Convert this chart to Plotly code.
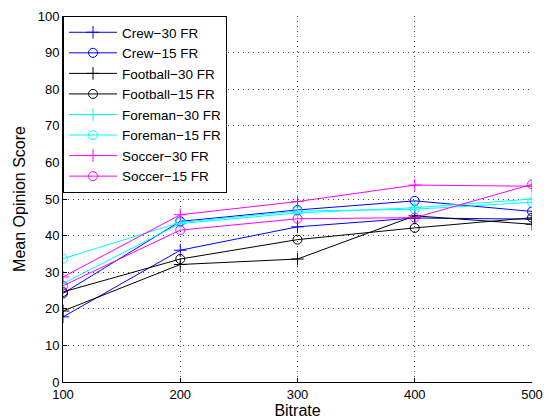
import plotly.graph_objects as go

bitrate = [100, 200, 300, 400, 500]

crew_30 = [17.8, 36.0, 42.4, 44.8, 44.5]
crew_15 = [24.2, 43.9, 47.0, 49.5, 46.6]
football_30 = [19.4, 32.1, 33.6, 45.4, 43.1]
football_15 = [24.6, 33.6, 38.9, 42.1, 44.9]
foreman_30 = [26.9, 43.3, 46.2, 47.6, 50.0]
foreman_15 = [33.7, 43.6, 46.7, 47.2, 49.1]
soccer_30 = [28.7, 45.7, 49.3, 53.8, 53.5]
soccer_15 = [26.3, 41.5, 44.6, 44.9, 54.0]

series = [
    ("Crew\u221230 FR", crew_30, "#0000ff", "cross-thin-open"),
    ("Crew\u221215 FR", crew_15, "#0000ff", "circle-open"),
    ("Football\u221230 FR", football_30, "#000000", "cross-thin-open"),
    ("Football\u221215 FR", football_15, "#000000", "circle-open"),
    ("Foreman\u221230 FR", foreman_30, "#00ffff", "cross-thin-open"),
    ("Foreman\u221215 FR", foreman_15, "#00ffff", "circle-open"),
    ("Soccer\u221230 FR", soccer_30, "#ff00ff", "cross-thin-open"),
    ("Soccer\u221215 FR", soccer_15, "#ff00ff", "circle-open"),
]

fig = go.Figure()
for name, vals, color, sym in series:
    fig.add_trace(go.Scatter(
        x=bitrate, y=vals, name=name, mode="lines+markers",
        line=dict(color=color, width=1),
        marker=dict(symbol=sym, size=9,
                    color=color, line=dict(color=color, width=1)),
    ))

font = "Liberation Sans, Arial, Helvetica, sans-serif"
fig.update_layout(
    width=549, height=420,
    margin=dict(l=63, r=17, t=16, b=38),
    paper_bgcolor="white", plot_bgcolor="white",
    font=dict(family=font, size=13, color="black"),
    showlegend=True,
    legend=dict(x=0, y=1, xanchor="left", yanchor="top",
                bordercolor="black", borderwidth=1, bgcolor="white",
                font=dict(size=13.5), tracegroupgap=0, itemwidth=48),
)
fig.update_xaxes(
    range=[100, 500], tickvals=bitrate, showline=True, linecolor="black",
    linewidth=1, ticks="inside", ticklen=4, tickcolor="black",
    showgrid=True, gridcolor="#444444", griddash="1px,4px", gridwidth=1,
    zeroline=False, title=dict(text="Bitrate", standoff=2),
    automargin=False,
)
fig.update_yaxes(
    range=[0, 100], dtick=10, showline=True, linecolor="black",
    linewidth=1, ticks="inside", ticklen=4, tickcolor="black",
    showgrid=True, gridcolor="#444444", griddash="1px,4px", gridwidth=1,
    zeroline=False, title=dict(text="Mean Opinion Score", standoff=8),
    automargin=False,
)
fig.write_html("out.html")
